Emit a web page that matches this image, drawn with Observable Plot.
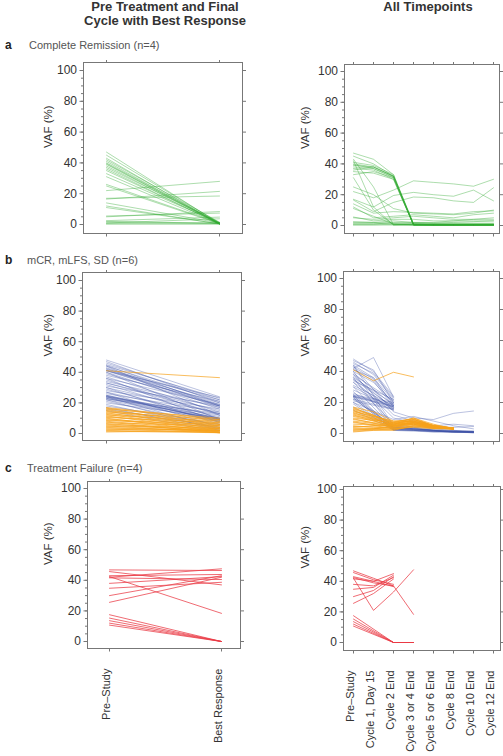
<!DOCTYPE html>
<html><head><meta charset="utf-8">
<script src="https://cdn.jsdelivr.net/npm/d3@7"></script>
<script src="https://cdn.jsdelivr.net/npm/@observablehq/plot@0.6"></script>
<style>
body{margin:0;background:#fff;font-family:"Liberation Sans",Arial,Helvetica,sans-serif;}
#chart{position:relative;width:503px;height:756px;overflow:hidden;background:#fff;}
.t{position:absolute;white-space:nowrap;line-height:1;}
</style></head><body><div id="chart"></div>
<script>
// ---------- categories ----------
const pairCats = ["Pre–Study", "Best Response"];
const timepoints = ["Pre–Study", "Cycle 1, Day 15", "Cycle 2 End", "Cycle 3 or 4 End",
  "Cycle 5 or 6 End", "Cycle 8 End", "Cycle 10 End", "Cycle 12 End"];
const yTicks = [0, 20, 40, 60, 80, 100];
const yMinorTicks = [0,5,10,15,20,25,30,35,40,45,50,55,60,65,70,75,80,85,90,95,100];

// ---------- a: Complete Remission ----------
const crPre  = [47,45,43,42,41,40,39.5,39,38,37,36,35,33,31,26,25,14,12,11, 22,16.5,17,5,5.5,2.5,1, 0.3,0.5,1.5,2];
const crBest = [0.5,1,0.3,1.5,0.5,1,0.3,0.8,0.5,1.2,0.3,0.6,1,0.4,0.8,0.5,1,0.3,0.5, 28,21.5,18.5,8.4,7.4,4.8,3.7, 0.3,0.5,1,0.8];
const crSeries = [
  [47,43,33,1,0.5,0.5,0.5,0.5],[45,40,32,0.5,0.3,0.3,0.3,0.3],[41,39,33,1,0.5,0.5,0.5,0.5],
  [40,38,32,0.5,0.3,0.3,0.3,0.3],[39.5,37,31.5,0.3,0.3,0.3,0.3,0.3],[39,38,32,0.5,0.5,0.5,0.5,0.5],
  [38,37,31,0.3,0.3,0.3,0.3,0.3],[37,36,30,0.5,0.3,0.3,0.3,0.3],[36,38,32,0.8,0.5,0.5,0.5,0.5],
  [35,34,30,0.3,0.3,0.3,0.3,0.3],[33,35,31,0.5,0.5,0.5,0.5,0.5],[43,25,0.5,1,1,1,1,1],
  [42,12,0.3,0.5,0.5,0.5,0.5,0.5],[31,10,0.5,0.3,0.3,0.3,0.3,0.3],[11,6,1,0.5,0.5,0.5,0.5,0.5],
  [22,18,23,29,28,27,25.5,30],[17,12,19.5,21.5,20,19,23,16],[16.5,9,15,18.5,18,16,15,24.5],
  [25,20,11,8,7.5,7,8,10],[14,8,9,8.5,8,7.5,9,9.5],[12,5,6,7,6,5,7,8],
  [5,4,5,6,5,4,4,5],[5.5,3,4,4,3,3,4,4],[2.5,2,3,2,2,3,3,3],[1,1,2,2,1.5,2,2.5,3],
  [0.3,0.3,0.3,0.3,0.3,0.3,0.3,0.3],[0.5,0.5,0.8,0.5,0.5,0.5,0.5,0.5],[1.5,1.5,1,1,1,1,1,1],[2,2,1.5,1.5,1.5,1.5,1.5,1.5]
];

// ---------- b: mCR, mLFS, SD ----------
const mrBluePre  = [48,47,46,45,44.5,44,43,42.5,42,41.5,41,40,39,38,37,36,35,34,33,32,31,30,29,28,27,26,25,24.5,24,23.5,23,22.5,22,21,20,19,18,17,16,15,44,40,36,33,30,27,24,22,24,24.5,25,23,41,41.2];
const mrBlueBest = [24,20,22,23,18,21,19,17,22,20,23.5,16,18,21,14,19,12,17,15,10,18,13,9,16,11,14,8,10,12,9.6,7.4,13,8,5,10,3,6,2,4,1,12,9,7,13,6,4,3,2,9,8.5,10,9,18,18.5];
const mrOrangePre  = [17,16.5,16,15.5,15,14.5,14,13.5,13,12.5,12,11.5,11,10.5,10,9.5,9,8.5,8,7.5,7,6.5,6,5.5,5,4.5,4,3.5,3,2.5,2,1.5,1,41];
const mrOrangeBest = [9,8,10,6,7,5,9,4,6,3,8,2,5,7,1,4,3,6,2,0.5,5,1,3,2,0.5,4,1.5,2,0.5,3,1,0.5,2,36.5];
const mrBlueSeries = [
  [48,40,24],[47,41,20],[46,38,22],[45,39,23],[44,36,18],[43,35,19],[42,49,23.5],[41.5,34,17],[41,36,21],[40,33,20],
  [39,null,18],[38,null,21],[37,null,16],[36,null,19],[35,null,17],[34,null,22],[33,null,15],[31,null,18],[30,null,16],[28,null,17],
  [26,null,15],[24.5,null,19],[24,null,18],[23.5,null,17],[22,null,16],[21,null,15.5],[25,null,20],[24,null,17.5],
  [44,null,5,3,2,1,1],[40,null,4,2.5,1.5,1,0.8],[36,null,3,2,1.5,0.8,0.5],[33,null,6,4,2,1.5,1],[30,null,3.5,3,2,1,1],
  [27,null,2.5,2,1.5,1,0.8],[25,null,4,3,2.5,2,1.5],[24,null,3,2.5,2,1.5,1],[23,null,2,2,1,1,0.5],[22,null,5,4,3,2,1.5],
  [20,null,3,3,2,1.5,1],[19,null,2,1.5,1,1,0.5],[17,null,4,3.5,2,1.5,1],[15,null,2.5,2,1.5,1,1],[24,null,3.5,3,2,1.5,1.2],
  [23,null,2.5,2.5,1.5,1.2,1],[43,null,14,10,9,13,14.5],[38,null,12,8,5,6,5],[35,null,10,7,4,4,4.5],[20,null,9,11,8,5,3]
];
const mrOrangeSeries = [
  [17,14,8,9,5,3.5],[16.5,null,7,10,6,3],[16,12,6,8,5,3.5],[15.5,null,7.5,9.5,4.5,3],[15,null,5,7,4,3],
  [14.5,11,6.5,8.5,5,3.5],[14,null,8,7.5,4,3],[13.5,null,5.5,9,5.5,3.5],[13,10,7,8,4.5,3],[12.5,null,6,6.5,4,3],
  [12,null,4.5,7,5,3.5],[11.5,9,6,10,5,3],[11,null,5,8,4,3],[10,null,7,6,3.5,3],[9.5,null,4,7.5,4.5,3.5],
  [9,7,6,9,5,3],[8,null,5,6,4,3],[7.5,null,3,5,3.5,3],[7,null,4.5,8,4.5,3.5],[6,null,5,7,4,3],
  [5,4,3.5,6,3.5,3],[4.5,null,4,5.5,4,3],[4,null,6,7,4.5,3.5],[3.5,null,3,4.5,3.5,3],[3,3,5,6,4,3],
  [2.5,null,2.5,5,3.5,3],[2,null,4,6.5,4.5,3.5],[1.5,null,3,4,3,3],[1,2,2,5,3.5,3],[41,34,39.5,36.5]
];

// ---------- c: Treatment Failure ----------
const tfPre  = [46.8,45.7,43,42.4,42,41.6,38,34.8,30,25.6,17.5,15.3,13.6,12,10.7];
const tfBest = [46.4,37,43.8,18.4,47.5,40.5,42.4,38.7,43,42,0,0,0,0,0];
const tfSeries = [
  [46.8,42,37],[45.7,41,38],[43,40,45],[42.4,39,37,18.4],[42,21,33,47.5],[41.6,40,36.5],[38,37,42.4],
  [34.8,36,44],[30,34,43],[25.6,32,41.5],[17.5,null,0,0],[15.3,null,0,0],[13.6,null,0,0],[12,null,0,0],[10.7,null,0,0]
];

// ---------- helpers ----------
const chart = document.getElementById("chart");
const FONT = '"Liberation Sans", Arial, Helvetica, sans-serif';
function addText(txt, left, top, css) {
  const d = document.createElement("div");
  d.className = "t"; d.textContent = txt;
  d.style.left = left + "px"; d.style.top = top + "px";
  Object.assign(d.style, css || {});
  chart.appendChild(d);
  return d;
}
function seriesRows(series, cats) {
  const rows = [];
  series.forEach((s, i) => s.forEach((v, j) => { if (v != null) rows.push({id: i, t: cats[j], v}); }));
  return rows;
}
function pairRows(pre, best) {
  const rows = [];
  pre.forEach((p, i) => { rows.push({id: i, t: pairCats[0], v: p}); rows.push({id: i, t: pairCats[1], v: best[i]}); });
  return rows;
}

const GREEN = "#33aa33", BLUE = "#3d4fa6", ORANGE = "#f7a11a", RED = "#ea3a44";

function panel(cfg) {
  const {svgLeft, svgTop, width, height, fl, fr, ft, fb, cats, c0, c1, y0, y100, layers, vafX, showLabels, labelTop} = cfg;
  const marks = [];
  for (const l of layers) {
    marks.push(Plot.line(l.rows, {x: "t", y: "v", z: "id", stroke: l.color, strokeOpacity: l.opacity, strokeWidth: l.width || 1}));
  }
  marks.push(
    Plot.frame({stroke: "#777", strokeWidth: 1}),
    Plot.axisY({ticks: yMinorTicks, tickSize: 2, fill: "none", stroke: "#777", label: null}),
    Plot.axisY({ticks: yTicks, tickSize: 3.5, tickPadding: 3, fontSize: 12, fill: "#333", stroke: "#777", label: null}),
    Plot.axisY({anchor: "right", ticks: yTicks, tickSize: 3, fill: "none", stroke: "#777", label: null}),
    Plot.axisX({anchor: "top", tickSize: 3, fill: "none", stroke: "#777", label: null}),
    Plot.axisX({anchor: "bottom", tickSize: 3.5, fill: "none", stroke: "#777", label: null}),
    Plot.text(["VAF (%)"], {frameAnchor: "left", dx: vafX - fl, rotate: -90, fontSize: 11.5, fill: "#333", text: d => d})
  );
  if (showLabels) {
    marks.push(Plot.text(cats, {x: d => d, frameAnchor: "bottom", dy: labelTop - fb, rotate: -90,
      textAnchor: "end", fontSize: 11, fill: "#333", text: d => d}));
  }
  const plot = Plot.plot({
    width, height,
    marginLeft: fl - svgLeft, marginRight: svgLeft + width - fr,
    marginTop: ft - svgTop, marginBottom: svgTop + height - fb,
    style: {background: "transparent", overflow: "visible", fontFamily: FONT, fontSize: "12px", color: "#333"},
    x: {type: "point", domain: cats, range: [c0 - svgLeft, c1 - svgLeft], padding: 0, label: null},
    y: {domain: [0, 100], range: [y0 - svgTop, y100 - svgTop], label: null},
    marks
  });
  plot.style.position = "absolute";
  plot.style.left = svgLeft + "px";
  plot.style.top = svgTop + "px";
  chart.appendChild(plot);
}

// ---------- titles ----------
const titleCss = {fontWeight: "bold", fontSize: "13px", color: "#333", textAlign: "center", transform: "translateX(-50%)", lineHeight: "13px"};
addText("Pre Treatment and Final", 165, 0, titleCss);
addText("Cycle with Best Response", 165, 14, titleCss);
addText("All Timepoints", 428, 0, titleCss);

const letterCss = {fontWeight: "bold", fontSize: "12px", color: "#222"};
const subCss = {fontSize: "11px", color: "#555"};
addText("a", 5, 39, letterCss);
addText("Complete Remission (n=4)", 29, 40, subCss);
addText("b", 5, 254, letterCss);
addText("mCR, mLFS, SD (n=6)", 27, 255, subCss);
addText("c", 5, 462, letterCss);
addText("Treatment Failure (n=4)", 27, 463, subCss);

// ---------- panels ----------
panel({svgLeft: 0, svgTop: 55, width: 250, height: 185, fl: 83, fr: 242, ft: 62, fb: 233,
  cats: pairCats, c0: 106, c1: 219, y0: 224, y100: 70, vafX: 48,
  layers: [{rows: pairRows(crPre, crBest), color: GREEN, opacity: 0.4}]});
panel({svgLeft: 250, svgTop: 55, width: 253, height: 185, fl: 344, fr: 499, ft: 64, fb: 233,
  cats: timepoints, c0: 351, c1: 495.5, y0: 225, y100: 71, vafX: 305,
  layers: [{rows: seriesRows(crSeries, timepoints), color: GREEN, opacity: 0.4}]});

panel({svgLeft: 0, svgTop: 265, width: 250, height: 182, fl: 82, fr: 241, ft: 272, fb: 440,
  cats: pairCats, c0: 106, c1: 219, y0: 433, y100: 280, vafX: 48,
  layers: [{rows: pairRows(mrBluePre, mrBlueBest), color: BLUE, opacity: 0.35},
           {rows: pairRows(mrOrangePre, mrOrangeBest), color: ORANGE, opacity: 0.7}]});
panel({svgLeft: 250, svgTop: 265, width: 253, height: 182, fl: 343, fr: 499, ft: 271, fb: 441,
  cats: timepoints, c0: 351, c1: 495.5, y0: 433, y100: 278, vafX: 305,
  layers: [{rows: seriesRows(mrBlueSeries, timepoints), color: BLUE, opacity: 0.35},
           {rows: seriesRows(mrOrangeSeries, timepoints), color: ORANGE, opacity: 0.7}]});

panel({svgLeft: 0, svgTop: 474, width: 250, height: 282, fl: 87, fr: 240, ft: 481, fb: 648,
  cats: pairCats, c0: 109, c1: 221, y0: 641, y100: 488, vafX: 48, showLabels: true, labelTop: 668,
  layers: [{rows: pairRows(tfPre, tfBest), color: RED, opacity: 0.75}]});
panel({svgLeft: 250, svgTop: 474, width: 253, height: 282, fl: 343, fr: 500, ft: 486, fb: 650,
  cats: timepoints, c0: 350, c1: 495.5, y0: 642, y100: 489, vafX: 305, showLabels: true, labelTop: 670,
  layers: [{rows: seriesRows(tfSeries, timepoints), color: RED, opacity: 0.75}]});
</script></body></html>
